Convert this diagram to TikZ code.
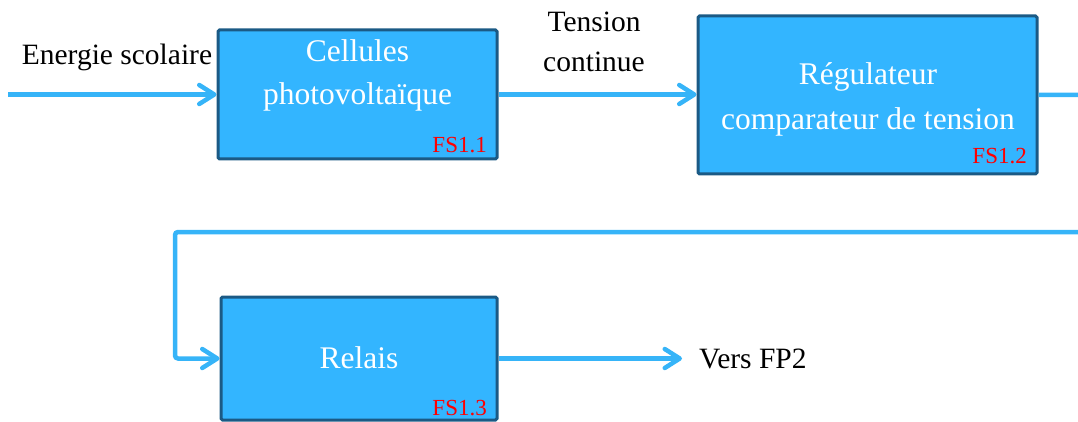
\documentclass[tikz,border=0pt]{standalone}
\usepackage{fontspec}
\setmainfont{Liberation Serif}
\usetikzlibrary{arrows.meta}
\definecolor{boxfill}{HTML}{33B5FF}
\definecolor{boxline}{HTML}{1B5A85}
\definecolor{flow}{HTML}{36B4F8}
\begin{document}
\begin{tikzpicture}[x=1pt,y=-1pt,
  blk/.style={draw=boxline, fill=boxfill, line width=3pt, rounded corners=1.5pt, inner sep=0pt},
  intext/.style={text=white, font=\fontsize{31.5}{36}\selectfont, anchor=base, inner sep=0pt},
  outtext/.style={text=black, font=\fontsize{29.5}{34}\selectfont, anchor=base, inner sep=0pt},
  fs/.style={text=red, font=\fontsize{23}{26}\selectfont, anchor=base east, inner sep=0pt},
  flowline/.style={draw=flow, line width=4.5pt, -{Straight Barb[round,length=15pt,width=19pt]}}]
\useasboundingbox (0,0) rectangle (1078,422);
% boxes
\node[blk, minimum width=279pt, minimum height=129pt] (b1) at (357.5,94.5) {};
\node[blk, minimum width=339pt, minimum height=158pt] (b2) at (867.5,95) {};
\node[blk, minimum width=276pt, minimum height=123pt] (b3) at (359,358.5) {};
% box texts
\node[intext] (t1a) at (357.5,62) {Cellules};
\node[intext] (t1b) at (357.5,105) {photovoltaïque};
\node[intext] (t2a) at (868,85) {Régulateur};
\node[intext] (t2b) at (868,130) {comparateur de tension};
\node[intext] (t3) at (359,368) {Relais};
\node[fs] (fs1) at (487,153) {FS1.1};
\node[fs] (fs2) at (1027,164) {FS1.2};
\node[fs] (fs3) at (487,415) {FS1.3};
% outside labels
\node[outtext] (en) at (117,65) {Energie scolaire};
\node[outtext] (tc1) at (594,32) {Tension};
\node[outtext] (tc2) at (594,72) {continue};
\node[outtext, anchor=base west] (vers) at (699,368) {Vers FP2};
% connectors
\coordinate (in) at (8,94.5);
\coordinate (out) at (682,358.5);
\draw[flowline] (in) -- (b1.west);
\draw[flowline] (b1.east) -- (b1.east -| b2.west);
\draw[flowline, rounded corners=3pt] (b2.east) -- (1100,95) -- (1100,232) -- (175,232) -- (175,358.5) -- (b3.west);
\draw[flowline] (b3.east) -- (out);
\end{tikzpicture}
\end{document}
